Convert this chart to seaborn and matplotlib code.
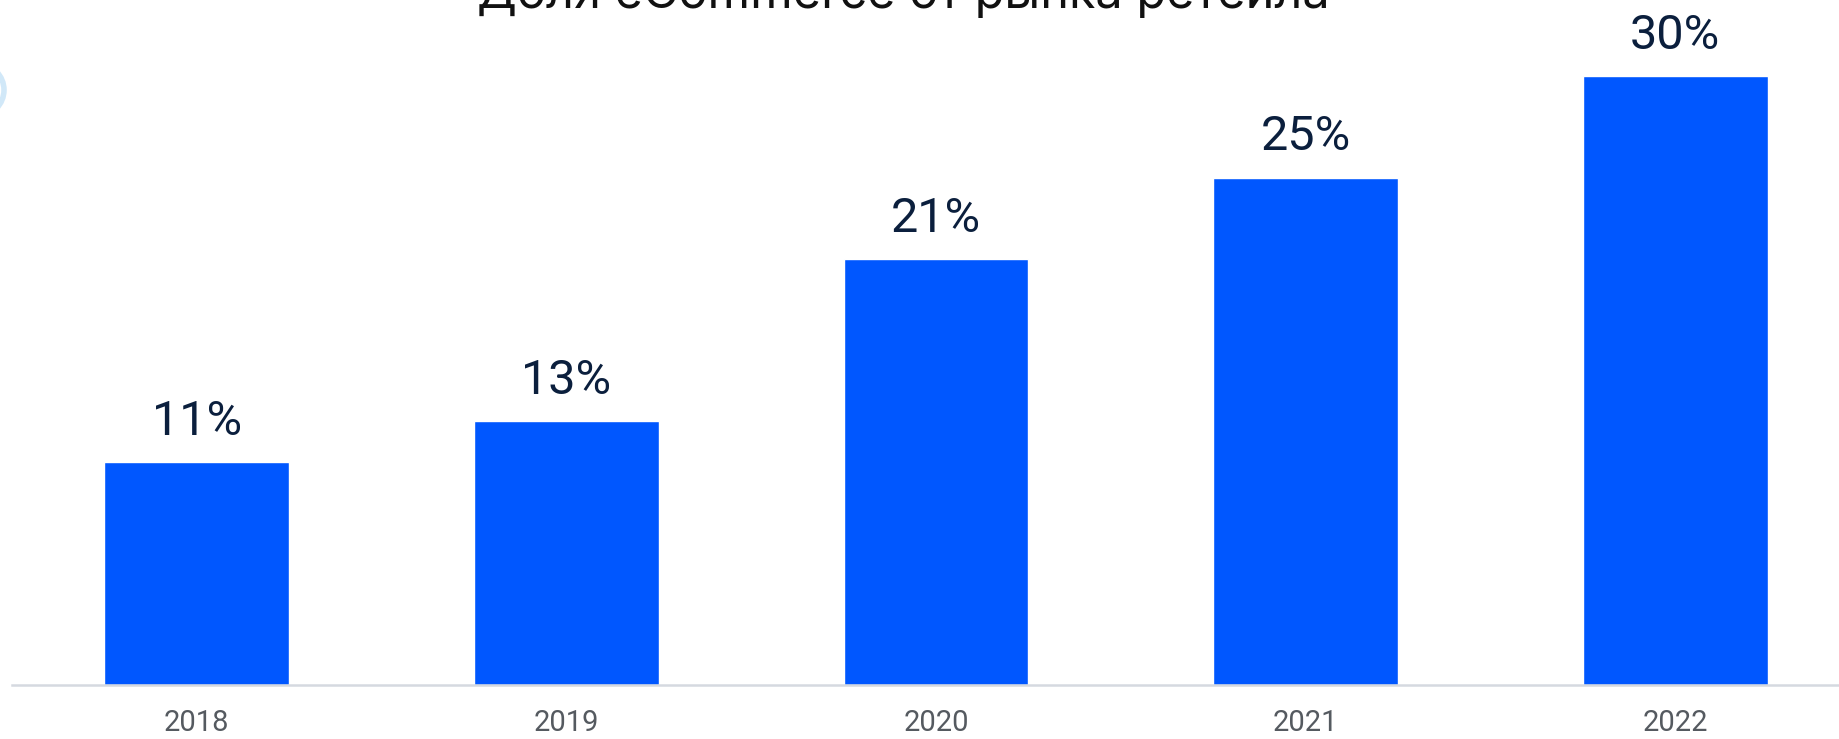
import matplotlib
matplotlib.use("Agg")
import matplotlib.pyplot as plt
import seaborn as sns
import pandas as pd
from matplotlib.patches import Circle

# data
years = ["2018", "2019", "2020", "2021", "2022"]
share = [11, 13, 21, 25, 30]
labels = ["11%", "13%", "21%", "25%", "30%"]
title = "Доля eCommerce от рынка ретейла"

df = pd.DataFrame({"year": years, "share": share})

sns.set_theme(style="white")
plt.rcParams["font.family"] = ["Roboto", "DejaVu Sans"]

W, H = 1840, 739
fig = plt.figure(figsize=(W / 100, H / 100), dpi=100)

px_per_pct = 20.3
ymax = 34
bottom = 54
left_px, right_px = 12, 1860
ax = fig.add_axes([left_px / W, bottom / H, (right_px - left_px) / W, ymax * px_per_pct / H])

sns.barplot(data=df, x="year", y="share", color="#0057ff", width=0.5,
            saturation=1, ax=ax)
ax.set_xlim(-0.5, 4.5)
ax.set_ylim(0, ymax)

for i, (v, lab) in enumerate(zip(share, labels)):
    ax.annotate(lab, (i, v), xytext=(0, 27), textcoords="offset pixels",
                ha="center", va="baseline", fontsize=35, color="#0b1f3d")

for s in ["top", "right", "left"]:
    ax.spines[s].set_visible(False)
ax.spines["bottom"].set_color("#d5d9e0")
ax.spines["bottom"].set_linewidth(1.8)
ax.set_yticks([])
ax.set_xlabel("")
ax.set_ylabel("")
ax.tick_params(axis="x", length=0, pad=17, labelsize=21, labelcolor="#555a60")
ax.patch.set_alpha(0)

fig.text(903 / W, 1 - 8 / H, title, ha="center", va="baseline",
         fontsize=35, color="#111111", family=["Inter", "DejaVu Sans"])

# faint decorative ring at the left edge
ring = Circle((-22, H - 90), 26, transform=None, fill=False,
              edgecolor="#8cc6ef", linewidth=4, alpha=0.4)
fig.patches.append(ring)

fig.savefig("out.png", dpi=100)
